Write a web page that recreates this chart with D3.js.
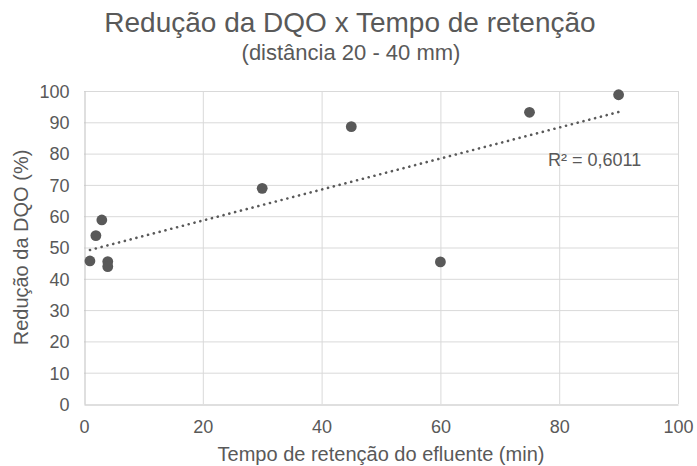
<!DOCTYPE html>
<html>
<head>
<meta charset="utf-8">
<script src="https://cdn.jsdelivr.net/npm/d3@7"></script>
<style>
  html, body { margin: 0; padding: 0; background: #ffffff; }
  svg { display: block; font-family: "Liberation Sans", Arial, sans-serif; }
</style>
</head>
<body>
<svg id="chart" width="697" height="466"></svg>
<script>
// ---- Data ----
const tempo = [1, 2, 3, 4, 4, 30, 45, 60, 75, 90];          // min
const reducao = [45.7, 53.8, 58.8, 45.5, 43.9, 68.9, 88.6, 45.4, 93.2, 98.8]; // %
const xTicks = [0, 20, 40, 60, 80, 100];
const yTicks = [0, 10, 20, 30, 40, 50, 60, 70, 80, 90, 100];
const titleText = "Redução da DQO x Tempo de retenção";
const subtitleText = "(distância 20 - 40 mm)";
const xAxisTitle = "Tempo de retenção do efluente (min)";
const yAxisTitle = "Redução da DQO (%)";
const r2Label = "R² = 0,6011";

// ---- Layout ----
const W = 697, H = 466;
const plot = { left: 84, right: 678, top: 91, bottom: 404 };
const textColor = "#595959";

const svg = d3.select("#chart");
svg.append("rect").attr("width", W).attr("height", H).attr("fill", "#fff");

const x = d3.scaleLinear().domain([0, 100]).range([plot.left, plot.right]);
const y = d3.scaleLinear().domain([0, 100]).range([plot.bottom, plot.top]);

// Gridlines
const grid = svg.append("g");
grid.selectAll("line.h").data(yTicks.filter(d => d > 0)).join("line")
  .attr("x1", plot.left).attr("x2", plot.right)
  .attr("y1", d => y(d) + 0.5).attr("y2", d => y(d) + 0.5)
  .attr("stroke", "#d9d9d9").attr("stroke-width", 1);
grid.selectAll("line.v").data(xTicks.filter(d => d > 0)).join("line")
  .attr("y1", plot.top).attr("y2", plot.bottom)
  .attr("x1", d => x(d) + 0.5).attr("x2", d => x(d) + 0.5)
  .attr("stroke", "#d9d9d9").attr("stroke-width", 1);

// Axes (D3 axes, lines styled)
const xAxis = svg.append("g").attr("transform", `translate(0,${plot.bottom + 0.5})`)
  .call(d3.axisBottom(x).tickValues(xTicks).tickSize(0).tickPadding(16).tickFormat(d3.format("d")));
const yAxis = svg.append("g").attr("transform", `translate(${plot.left + 0.5},0)`)
  .call(d3.axisLeft(y).tickValues(yTicks).tickSize(0).tickPadding(15).tickFormat(d3.format("d")));
[xAxis, yAxis].forEach(g => {
  g.select(".domain").attr("stroke", "#bfbfbf").attr("stroke-width", 1);
  g.selectAll("text").attr("fill", textColor).style("font-size", "18px")
    .style("font-family", '"Liberation Sans", Arial, sans-serif');
});
xAxis.selectAll("text").attr("dy", null).attr("y", 28);
yAxis.selectAll("text").attr("dy", "0.35em");

// Trendline (linear least squares from data)
const n = tempo.length;
const mx = d3.mean(tempo), my = d3.mean(reducao);
const sxy = d3.sum(tempo, (t, i) => (t - mx) * (reducao[i] - my));
const sxx = d3.sum(tempo, t => (t - mx) * (t - mx));
const slope = sxy / sxx, intercept = my - slope * mx;
const [xmin, xmax] = d3.extent(tempo);
svg.append("path")
  .attr("d", d3.line()([[x(xmin), y(intercept + slope * xmin)], [x(xmax), y(intercept + slope * xmax)]]))
  .attr("stroke", "#595959").attr("stroke-width", 2.6)
  .attr("stroke-linecap", "round").attr("stroke-dasharray", "0.1 5.9")
  .attr("fill", "none");

// Points
svg.append("g").selectAll("circle").data(tempo).join("circle")
  .attr("cx", (d) => x(d)).attr("cy", (d, i) => y(reducao[i]))
  .attr("r", 5.4).attr("fill", "#595959");

// R² label
svg.append("text").attr("x", 548).attr("y", 166)
  .attr("fill", textColor).style("font-size", "18px").text(r2Label);

// Titles
svg.append("text").attr("x", 350).attr("y", 32).attr("text-anchor", "middle")
  .attr("fill", textColor).style("font-size", "28px").text(titleText);
svg.append("text").attr("x", 351).attr("y", 60).attr("text-anchor", "middle")
  .attr("fill", textColor).style("font-size", "22px").text(subtitleText);
svg.append("text").attr("x", (plot.left + plot.right) / 2).attr("y", 461).attr("text-anchor", "middle")
  .attr("fill", textColor).style("font-size", "20px").text(xAxisTitle);
svg.append("text").attr("transform", `translate(28,${(plot.top + plot.bottom) / 2}) rotate(-90)`)
  .attr("text-anchor", "middle")
  .attr("fill", textColor).style("font-size", "20px").text(yAxisTitle);
</script>
</body>
</html>
